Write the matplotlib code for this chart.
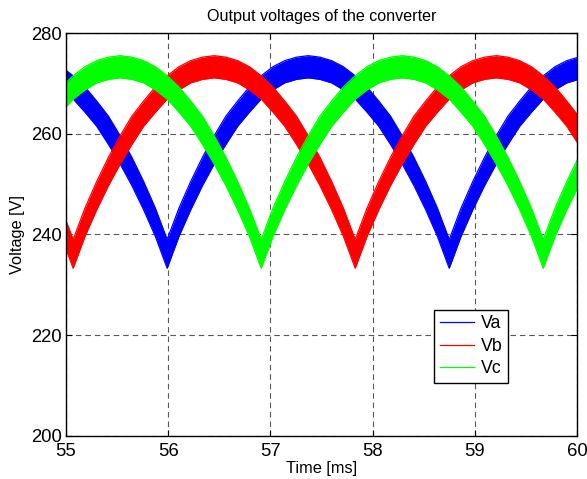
import matplotlib
matplotlib.use("Agg")
import matplotlib.pyplot as plt

# Time samples [ms]
t = [54.840, 54.955, 55.070, 55.185, 55.300, 55.415, 55.530, 55.645, 55.760, 55.875,
     55.990, 56.105, 56.220, 56.335, 56.450, 56.565, 56.680, 56.795, 56.910, 57.025,
     57.140, 57.255, 57.370, 57.485, 57.600, 57.715, 57.830, 57.945, 58.060, 58.175,
     58.290, 58.405, 58.520, 58.635, 58.750, 58.865, 58.980, 59.095, 59.210, 59.325,
     59.440, 59.555, 59.670, 59.785, 59.900, 60.015, 60.130]

# Ripple band envelopes [V]
va_upper = [274.5, 273.3, 271.5, 269.3, 266.5, 263.5, 259.6, 255.3, 250.5, 245.2, 239.0,
            245.2, 250.5, 255.3, 259.6, 263.5, 266.5, 269.3, 271.5, 273.3, 274.5, 275.2, 275.5,
            275.2, 274.5, 273.3, 271.5, 269.3, 266.5, 263.5, 259.6, 255.3, 250.5, 245.2, 239.0,
            245.2, 250.5, 255.3, 259.6, 263.5, 266.5, 269.3, 271.5, 273.3, 274.5, 275.2, 275.5]
va_lower = [270.1, 268.7, 266.9, 264.3, 261.5, 257.9, 254.0, 249.7, 244.9, 239.6, 233.3,
            239.6, 244.9, 249.7, 254.0, 257.9, 261.5, 264.3, 266.9, 268.7, 270.1, 270.8, 271.1,
            270.8, 270.1, 268.7, 266.9, 264.3, 261.5, 257.9, 254.0, 249.7, 244.9, 239.6, 233.3,
            239.6, 244.9, 249.7, 254.0, 257.9, 261.5, 264.3, 266.9, 268.7, 270.1, 270.8, 271.1]

vb_upper = [250.5, 245.2, 239.0,
            245.2, 250.5, 255.3, 259.6, 263.5, 266.5, 269.3, 271.5, 273.3, 274.5, 275.2, 275.5,
            275.2, 274.5, 273.3, 271.5, 269.3, 266.5, 263.5, 259.6, 255.3, 250.5, 245.2, 239.0,
            245.2, 250.5, 255.3, 259.6, 263.5, 266.5, 269.3, 271.5, 273.3, 274.5, 275.2, 275.5,
            275.2, 274.5, 273.3, 271.5, 269.3, 266.5, 263.5, 259.6]
vb_lower = [244.9, 239.6, 233.3,
            239.6, 244.9, 249.7, 254.0, 257.9, 261.5, 264.3, 266.9, 268.7, 270.1, 270.8, 271.1,
            270.8, 270.1, 268.7, 266.9, 264.3, 261.5, 257.9, 254.0, 249.7, 244.9, 239.6, 233.3,
            239.6, 244.9, 249.7, 254.0, 257.9, 261.5, 264.3, 266.9, 268.7, 270.1, 270.8, 271.1,
            270.8, 270.1, 268.7, 266.9, 264.3, 261.5, 257.9, 254.0]

vc_upper = [266.5, 269.3, 271.5, 273.3, 274.5, 275.2, 275.5,
            275.2, 274.5, 273.3, 271.5, 269.3, 266.5, 263.5, 259.6, 255.3, 250.5, 245.2, 239.0,
            245.2, 250.5, 255.3, 259.6, 263.5, 266.5, 269.3, 271.5, 273.3, 274.5, 275.2, 275.5,
            275.2, 274.5, 273.3, 271.5, 269.3, 266.5, 263.5, 259.6, 255.3, 250.5, 245.2, 239.0,
            245.2, 250.5, 255.3, 259.6]
vc_lower = [261.5, 264.3, 266.9, 268.7, 270.1, 270.8, 271.1,
            270.8, 270.1, 268.7, 266.9, 264.3, 261.5, 257.9, 254.0, 249.7, 244.9, 239.6, 233.3,
            239.6, 244.9, 249.7, 254.0, 257.9, 261.5, 264.3, 266.9, 268.7, 270.1, 270.8, 271.1,
            270.8, 270.1, 268.7, 266.9, 264.3, 261.5, 257.9, 254.0, 249.7, 244.9, 239.6, 233.3,
            239.6, 244.9, 249.7, 254.0]

labels = ["Va", "Vb", "Vc"]
colors = ["#0000ff", "#ff0000", "#00ff00"]
xticks = [55, 56, 57, 58, 59, 60]
yticks = [200, 220, 240, 260, 280]

plt.rcParams['font.family'] = ['Liberation Sans', 'DejaVu Sans']

fig = plt.figure(figsize=(5.87, 4.79), dpi=100)
ax = fig.add_axes([0.1124, 0.0898, 0.8705, 0.8413])

series = [(va_upper, va_lower), (vb_upper, vb_lower), (vc_upper, vc_lower)]
handles = []
for (up, lo), lab, col in zip(series, labels, colors):
    ax.fill_between(t, lo, up, color=col, linewidth=0, zorder=2)
    h, = ax.plot(t, up, color=col, lw=0.9, label=lab, zorder=2)
    ax.plot(t, lo, color=col, lw=0.9, zorder=2)
    handles.append(h)

ax.set_xlim(55, 60)
ax.set_ylim(200, 280)
ax.set_xticks(xticks)
ax.set_yticks(yticks)
ax.grid(True, color='0.35', linestyle=(0, (5, 3.5)), linewidth=0.8, zorder=1)
ax.set_axisbelow(True)
ax.tick_params(direction='in', top=True, right=True, labelsize=13.3, length=4,
               width=0.8, pad=3)
ax.tick_params(axis='x', pad=5)
for s in ax.spines.values():
    s.set_linewidth(1.0)

ax.set_title("Output voltages of the converter", fontsize=11.6, pad=9)
ax.set_xlabel("Time [ms]", fontsize=11.8, labelpad=1)
ax.set_ylabel("Voltage [V]", fontsize=11.8, labelpad=4)

leg = ax.legend(handles=handles, loc='lower left', bbox_to_anchor=(0.720, 0.1315),
                borderaxespad=0, fancybox=False, framealpha=1, edgecolor='black',
                fontsize=12.8, handlelength=1.95, handletextpad=0.35, labelspacing=0.3,
                borderpad=0.33)
leg.get_frame().set_linewidth(1.0)

fig.savefig("out.png", dpi=100)
